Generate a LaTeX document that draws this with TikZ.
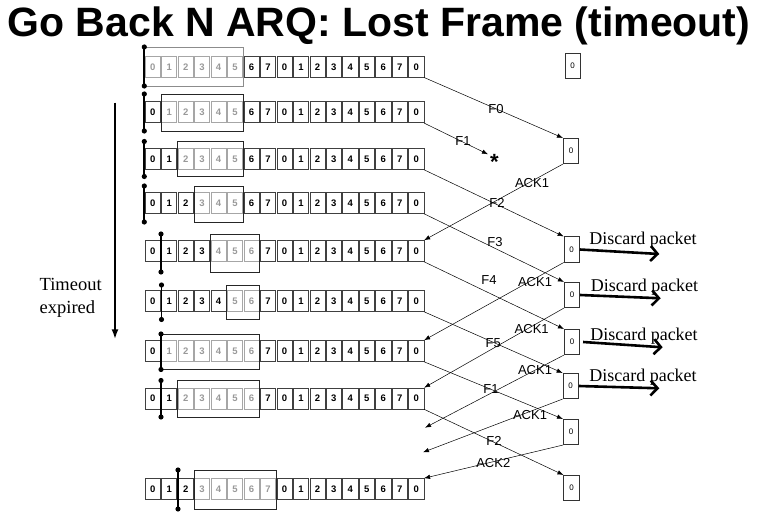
\documentclass[tikz,border=0pt]{standalone}
\usepackage{fontspec}
\setmainfont{Liberation Serif}
\setsansfont{Liberation Sans}
\usetikzlibrary{arrows.meta}
\tikzset{
  cell/.style={draw=black!75, line width=0.6pt, minimum width=15.2pt, minimum height=21pt, inner sep=0pt, text height=6.8pt, text depth=0pt, font=\sffamily\bfseries\fontsize{9.5}{10}\selectfont},
  gcell/.style={cell, draw=black!35, text=black!40},
  win/.style={line width=0.8pt},
  bar/.style={line width=1.8pt},
  rbox/.style={draw=black!80, line width=0.6pt, minimum width=15.5pt, minimum height=25.5pt, inner sep=0pt, font=\sffamily\fontsize{8}{8}\selectfont},
  msg/.style={-{Latex[length=6pt,width=4.5pt]}, line width=0.5pt},
  lbl/.style={font=\sffamily\fontsize{13}{13}\selectfont, inner sep=0pt},
  disc/.style={-{Straight Barb[length=7pt,width=15pt]}, line width=2.6pt},
  dtext/.style={font=\fontsize{18}{18}\selectfont, inner sep=0pt}
}
\newcommand\sndrow[8]{% #1 name, #2 cy, #3 first grey, #4 last grey, #5 bar x, #6 win top, #7 win bottom, #8 window colour
  \foreach \i in {0,...,16}{%
    \pgfmathtruncatemacro\d{mod(\i,8)}%
    \pgfmathsetmacro\cx{152.7+16.47*\i}%
    \ifnum\i<#3\relax
      \node[cell] (#1c\i) at (\cx,#2) {\d};%
    \else\ifnum\i>#4\relax
      \node[cell] (#1c\i) at (\cx,#2) {\d};%
    \else
      \node[gcell] (#1c\i) at (\cx,#2) {\d};%
    \fi\fi
  }
  \draw[win,draw=#8] ({144.5+16.47*#3},#6) rectangle ({144.5+16.47*(#4+1)},#7);
  \draw[bar] (#5,#6) -- (#5,#7);
  \fill (#5,#6) circle (2.6pt) (#5,#7) circle (2.6pt);
}
\begin{document}
\begin{tikzpicture}[x=1pt,y=-1pt]
\useasboundingbox (0,0) rectangle (758,521);
% title
\node[font=\sffamily\bfseries\fontsize{41}{41}\selectfont, inner sep=0pt, anchor=base] (title) at (379,37) {Go Back N ARQ: Lost Frame (timeout)};
% sender rows
\sndrow{ra}{66.7}{0}{5}{144.3}{47}{86}{black!45}
\sndrow{rb}{112.3}{1}{5}{144.3}{94}{131}{black!85}
\sndrow{rc}{159}{2}{5}{144.3}{141.5}{176.5}{black!85}
\sndrow{rd}{203}{3}{5}{144.3}{186}{222}{black!85}
\sndrow{re}{251}{4}{6}{161}{234}{272}{black!85}
\sndrow{rf}{301}{5}{6}{161.5}{285}{319.5}{black!85}
\sndrow{rg}{351}{1}{6}{161}{334}{369.5}{black!85}
\sndrow{rh}{398.5}{2}{6}{161}{380.5}{417}{black!85}
\sndrow{ri}{489}{3}{7}{178}{470}{509}{black!85}
% receiver boxes
\node[rbox] (R1) at (572.7,66) {0};
\node[rbox] (R2) at (571,151) {0};
\node[rbox] (R3) at (571.7,249.5) {0};
\node[rbox] (R4) at (572,295) {0};
\node[rbox] (R5) at (572,342) {0};
\node[rbox] (R6) at (570.7,386) {0};
\node[rbox] (R7) at (571,432) {0};
\node[rbox] (R8) at (571.5,488) {0};
% lost frame
\coordinate (lost) at (488,154.3);
\node[font=\sffamily\bfseries\fontsize{22}{22}\selectfont, inner sep=0pt] (star) at (494.5,162) {*};
% frames
\draw[msg] (rac16.south east) -- (R2.north west);
\draw[msg] (rbc16.south east) -- (lost);
\draw[msg] (rcc16.south east) -- (R3.north west);
\draw[msg] (rdc16.south east) -- (R4.north west);
\draw[msg] (rec16.south east) -- (R5.north west);
\draw[msg] (rfc16.south east) -- (R6.north west);
\draw[msg] (rgc16.south east) -- (R7.north west);
\draw[msg] (rhc16.south east) -- (R8.north west);
% acks
\coordinate (fa) at (425,427.7);
\coordinate (fb) at (423,452.3);
\draw[msg] (R2.south west) -- (rec16.north east);
\draw[msg] (R3.south west) -- (rgc16.north east);
\draw[msg] (R4.south west) -- (rhc16.north east);
\draw[msg] (R5.south west) -- (fa);
\draw[msg] (R6.south west) -- (fb);
\draw[msg] (R7.south west) -- (ric16.north east);
% labels
\node[lbl] (l1) at (496,109) {F0};
\node[lbl] (l2) at (463,141) {F1};
\node[lbl] (l3) at (532,183) {ACK1};
\node[lbl] (l4) at (497,203) {F2};
\node[lbl] (l5) at (495,242) {F3};
\node[lbl] (l6) at (489,280) {F4};
\node[lbl] (l7) at (535,282.3) {ACK1};
\node[lbl] (l8) at (531.7,329.3) {ACK1};
\node[lbl] (l9) at (493.3,342.7) {F5};
\node[lbl] (l10) at (535,370) {ACK1};
\node[lbl] (l11) at (491,389) {F1};
\node[lbl] (l12) at (530,415) {ACK1};
\node[lbl] (l13) at (494,440.7) {F2};
\node[lbl] (l14) at (493.3,462.7) {ACK2};
% discards
\coordinate (d1) at (659.3,254);
\coordinate (d2) at (660.7,298.3);
\coordinate (d3) at (662.7,347.3);
\coordinate (d4) at (659.3,388.3);
\draw[disc] (R3.east) -- (d1);
\draw[disc] (R4.east) -- (d2);
\draw[disc] ([xshift=3pt]R5.east) -- (d3);
\draw[disc] (R6.east) -- (d4);
\node[dtext] (t1) at (643,239.7) {Discard packet};
\node[dtext] (t2) at (644.5,286.7) {Discard packet};
\node[dtext] (t3) at (644,336) {Discard packet};
\node[dtext] (t4) at (643,376.7) {Discard packet};
% timeout
\coordinate (ta) at (115,102.7);
\coordinate (tb) at (115,339.3);
\draw[-{Latex[length=10pt,width=7pt]}, line width=2pt] (ta) -- (tb);
\node[font=\fontsize{18.5}{23}\selectfont, align=left, inner sep=0pt, anchor=west] (tout) at (39.5,298) {Timeout\\expired};
\end{tikzpicture}
\end{document}
